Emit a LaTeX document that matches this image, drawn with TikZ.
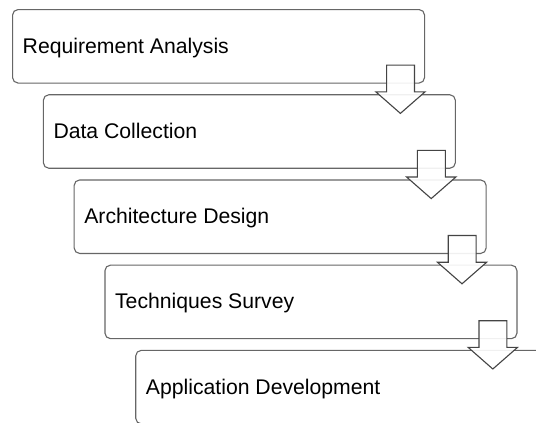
\documentclass[tikz,border=0pt]{standalone}
\usepackage{fontspec}
\setmainfont{Liberation Sans}
\usetikzlibrary{calc}
\definecolor{boxline}{HTML}{666666}
\definecolor{arrowline}{HTML}{444444}
\begin{document}
\begin{tikzpicture}[x=1pt,y=-1pt,
  stage/.style={draw=boxline, line width=1.1pt, rounded corners=5.5pt, fill=white,
    minimum width=412pt, minimum height=73.5pt, anchor=north west, inner sep=0pt},
  stagetext/.style={anchor=base west, font=\fontsize{21.2}{25}\selectfont, text=black, inner sep=0pt},
  flow/.style={draw=arrowline, line width=1.1pt, fill=white, fill opacity=0.9, line join=miter}]
\useasboundingbox (0,0) rectangle (536,423);
\clip (0,0) rectangle (536,423);

% the five stages, stepped down and to the right
\node[stage] (b1) at (12.0,9.0)   {};
\node[stage] (b2) at (42.8,94.2)  {};
\node[stage] (b3) at (73.6,179.4) {};
\node[stage] (b4) at (104.4,264.6) {};
\node[stage] (b5) at (135.2,349.8) {};

\foreach \b/\t in {b1/Requirement Analysis, b2/Data Collection, b3/Architecture Design,
                   b4/Techniques Survey, b5/Application Development}
  \node[stagetext] (\b-label) at ($(\b.north west)+(10.5,44.3)$) {\t};

% block arrows from each stage down into the next one
\foreach \a in {b1, b2, b3, b4} {
  \begin{scope}[shift={(\a.south east)}]
    \draw[flow] (-10.6,-18.5) -- (-10.6,8.2) -- (0,8.2) -- (-24.7,29.8)
      -- (-49.3,8.2) -- (-38.5,8.2) -- (-38.5,-18.5) -- cycle;
  \end{scope}
}
\end{tikzpicture}
\end{document}
